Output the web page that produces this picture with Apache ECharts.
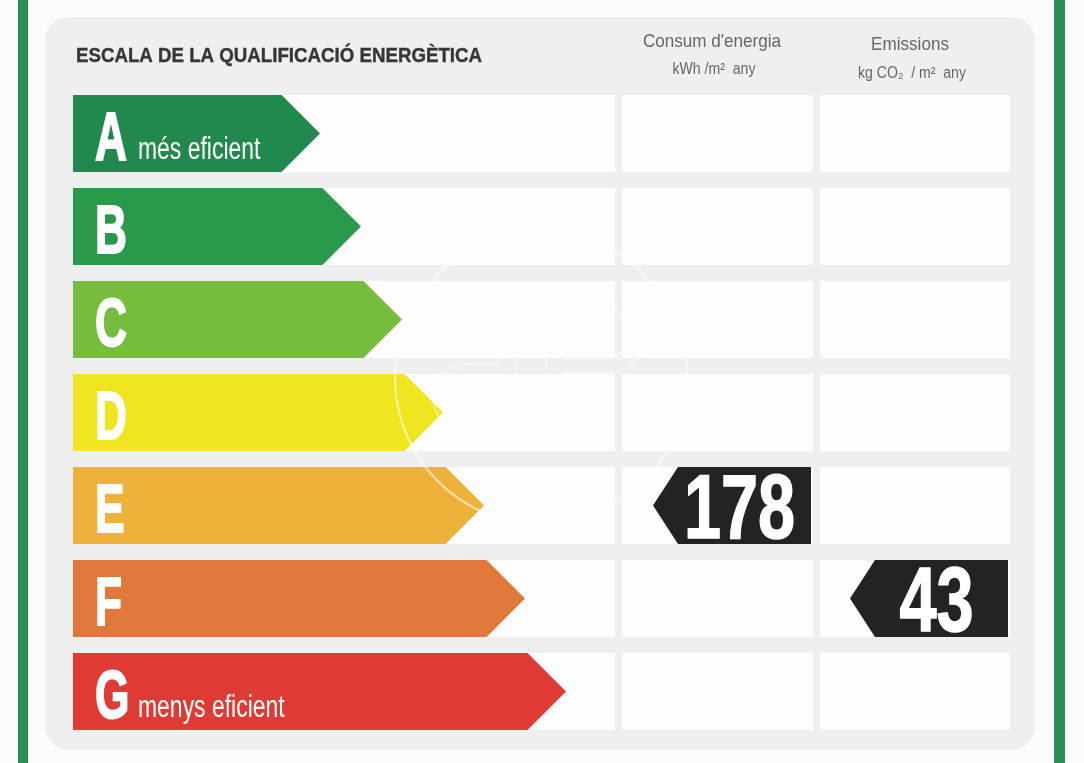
<!DOCTYPE html>
<html>
<head>
<meta charset="utf-8">
<script src="https://cdn.jsdelivr.net/npm/echarts@6/dist/echarts.min.js"></script>
<style>
  html, body { margin: 0; padding: 0; background: #fcfcfc; }
  #main { width: 1084px; height: 763px; }
</style>
</head>
<body>
<div id="main"></div>
<script>
// escala
var ratings = ['A', 'B', 'C', 'D', 'E', 'F', 'G'];
var ratingNotes = ['més eficient', '', '', '', '', '', 'menys eficient'];

// valors de l'edifici
var consumValue = 178;
var consumClass = 'E';
var emisValue = 43;
var emisClass = 'F';

// textos de capçalera
var titleText = 'ESCALA DE LA QUALIFICACIÓ ENERGÈTICA';
var consumTitle = "Consum d'energia";
var consumUnit = 'kWh /m²  any';
var emisTitle = 'Emissions';
var emisUnit = 'kg CO₂  / m²  any';

// colors
var ratingColors = ['#22894e', '#2b994b', '#76bc3d', '#efe61f', '#eeb23a', '#df783a', '#dd3b33'];
var SANS = '"Liberation Sans", Arial, sans-serif';

// mides (unitats de l'eix x = px des de la vora de la graella)
var arrowBase = 247, arrowStep = 41;
var rowFill = 77 / 93;
var cols = [[0, 542], [549, 740], [747, 937]];

var myChart = echarts.init(document.getElementById('main'));

function cellsItem(params, api) {
    var idx = api.value(0);
    var children = [];
    var h = api.size([0, 1])[1] * rowFill;
    cols.forEach(function (c) {
        var p0 = api.coord([c[0], idx]);
        var p1 = api.coord([c[1], idx]);
        children.push({
            type: 'rect',
            shape: { x: p0[0], y: p0[1] - h / 2, width: p1[0] - p0[0], height: h },
            style: { fill: '#fdfdfd' }
        });
    });
    return { type: 'group', children: children };
}

function arrowItem(params, api) {
    var idx = api.value(0);
    var tip = api.value(1);
    var p0 = api.coord([0, idx]);
    var p1 = api.coord([tip, idx]);
    var h = api.size([0, 1])[1] * rowFill;
    var y = p0[1];
    var note = ratingNotes[idx];
    var children = [{
        type: 'polygon',
        shape: {
            points: [
                [p0[0], y - h / 2], [p1[0] - h / 2, y - h / 2], [p1[0], y],
                [p1[0] - h / 2, y + h / 2], [p0[0], y + h / 2]
            ]
        },
        style: { fill: ratingColors[idx] }
    }, {
        type: 'text',
        x: p0[0] + 22, y: y + 8,
        scaleX: 0.65,
        style: {
            text: ratings[idx], x: 0, y: 0, fill: '#fff',
            stroke: '#fff', lineWidth: 2,
            font: 'bold 68px ' + SANS,
            align: 'left', verticalAlign: 'middle'
        }
    }];
    if (note) {
        children.push({
            type: 'text',
            x: p0[0] + 65, y: y + 17,
            scaleX: 0.74,
            style: {
                text: note, x: 0, y: 0, fill: '#fff',
                font: '31px ' + SANS,
                align: 'left', verticalAlign: 'middle'
            }
        });
    }
    return { type: 'group', children: children };
}

function markerItem(col) {
    return function (params, api) {
        var idx = api.value(0);
        var val = api.value(1);
        var h = api.size([0, 1])[1] * rowFill;
        var r = api.coord([cols[col][1] - 2, idx]);
        var y = r[1];
        var left = r[0] - 158;
        var tipLen = 25;
        return {
            type: 'group',
            children: [{
                type: 'polygon',
                shape: {
                    points: [
                        [left, y], [left + tipLen, y - h / 2], [r[0], y - h / 2],
                        [r[0], y + h / 2], [left + tipLen, y + h / 2]
                    ]
                },
                style: { fill: '#232323' }
            }, {
                type: 'text',
                x: (left + tipLen + r[0]) / 2 - 5, y: y + 8,
                scaleX: 0.74,
                style: {
                    text: String(val), x: 0, y: 0, fill: '#fff',
                    stroke: '#fff', lineWidth: 1.5,
                    font: 'bold 90px ' + SANS,
                    align: 'center', verticalAlign: 'middle'
                }
            }]
        };
    };
}

var option = {
    animation: false,
    backgroundColor: '#fcfcfc',
    grid: { left: 73, width: 937, top: 87, height: 651 },
    xAxis: { type: 'value', min: 0, max: 937, show: false },
    yAxis: { type: 'category', data: ratings, inverse: true, show: false },
    graphic: [
        { type: 'rect', z: -10, shape: { x: 18, y: 0, width: 10, height: 763 }, style: { fill: '#2a8f57' } },
        { type: 'rect', z: -10, shape: { x: 1054, y: 0, width: 11, height: 763 }, style: { fill: '#2a8f57' } },
        { type: 'rect', z: -10, shape: { x: 45, y: 17, width: 990, height: 733, r: 24 }, style: { fill: '#efefef' } },
        {
            type: 'text', z: 5, x: 76, y: 56, scaleX: 0.89,
            style: {
                text: titleText, fill: '#363636', stroke: '#363636', lineWidth: 0.4,
                font: 'bold 21px ' + SANS, align: 'left', verticalAlign: 'middle'
            }
        },
        {
            type: 'text', z: 5, x: 712, y: 42, scaleX: 0.9,
            style: { text: consumTitle, fill: '#666', font: '19px ' + SANS, align: 'center', verticalAlign: 'middle' }
        },
        {
            type: 'text', z: 5, x: 714, y: 70, scaleX: 0.88,
            style: { text: consumUnit, fill: '#666', font: '16px ' + SANS, align: 'center', verticalAlign: 'middle' }
        },
        {
            type: 'text', z: 5, x: 910, y: 45, scaleX: 0.9,
            style: { text: emisTitle, fill: '#666', font: '19px ' + SANS, align: 'center', verticalAlign: 'middle' }
        },
        {
            type: 'text', z: 5, x: 912, y: 74, scaleX: 0.88,
            style: { text: emisUnit, fill: '#666', font: '16px ' + SANS, align: 'center', verticalAlign: 'middle' }
        },
        // marca d'aigua
        {
            type: 'circle', z: 50, shape: { cx: 541, cy: 378, r: 146 },
            style: { fill: 'none', stroke: 'rgba(255,255,255,0.6)', lineWidth: 2 }
        },
        {
            type: 'text', z: 50, x: 541, y: 372,
            style: {
                text: 'aP', fill: 'none', stroke: 'rgba(255,255,255,0.5)', lineWidth: 1.5,
                font: '190px ' + SANS, align: 'center', verticalAlign: 'middle'
            }
        }
    ],
    series: [
        {
            type: 'custom', name: 'cells', silent: true, z: 1,
            renderItem: cellsItem,
            data: ratings.map(function (r, i) { return [i]; })
        },
        {
            type: 'custom', name: 'escala', silent: true, z: 2,
            renderItem: arrowItem,
            data: ratings.map(function (r, i) { return [i, arrowBase + arrowStep * i]; })
        },
        {
            type: 'custom', name: 'consum', silent: true, z: 3,
            renderItem: markerItem(1),
            data: [[ratings.indexOf(consumClass), consumValue]]
        },
        {
            type: 'custom', name: 'emissions', silent: true, z: 3,
            renderItem: markerItem(2),
            data: [[ratings.indexOf(emisClass), emisValue]]
        }
    ]
};

myChart.setOption(option);
</script>
</body>
</html>
